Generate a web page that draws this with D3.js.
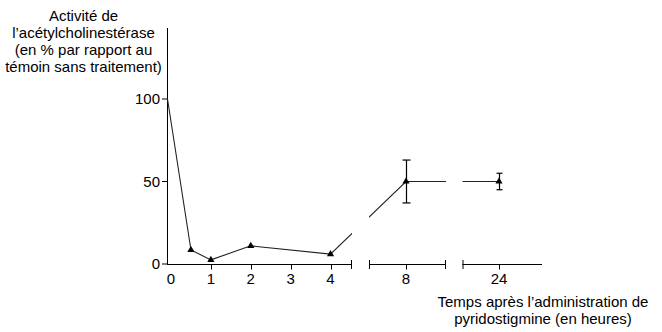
<!DOCTYPE html>
<html>
<head>
<meta charset="utf-8">
<script src="https://cdn.jsdelivr.net/npm/d3@7"></script>
<style>
  html, body { margin: 0; padding: 0; background: #fff; }
  svg { display: block; font-family: "Liberation Sans", Arial, sans-serif; }
  text { fill: #000; font-size: 15px; }
</style>
</head>
<body>
<svg id="chart" width="662" height="332"></svg>
<script>
// ---- data ----
const times = [0, 0.5, 1, 2, 4, 8, 24];
const activity = [100, 8.5, 2.5, 11, 6, 50, 50];
const errors = [0, 0, 0, 0, 0, 13, 5];
const hasMarker = [false, true, true, true, true, true, true];
const yTicks = [0, 50, 100];
const xTicksSeg1 = [0, 1, 2, 3, 4];
const xTicksSeg2 = [8];
const xTicksSeg3 = [24];
const yTitle = ["Activité de", "l\u2019acétylcholinestérase", "(en % par rapport au", "témoin sans traitement)"];
const xTitle = ["Temps après l\u2019administration de", "pyridostigmine (en heures)"];

// ---- layout ----
const svg = d3.select("#chart");
const axisX = 167, axisY = 264.5, axisTop = 28;
const x = d3.scaleLinear().domain([0, 4, 8, 24]).range([171, 330.5, 406, 499]);
const y = d3.scaleLinear().domain([0, 100]).range([264, 99]);

const segs = [
  [axisX, x(4) + 21.5, false, true],
  [x(8) - 37, x(8) + 40, true, true],
  [x(24) - 36.5, x(24) + 43, true, false]
];

// clip for broken line
const defs = svg.append("defs");
const cp = defs.append("clipPath").attr("id", "segclip");
segs.forEach(s => cp.append("rect").attr("x", s[0]).attr("y", 0).attr("width", s[1] - s[0]).attr("height", 332));

// y axis
svg.append("line").attr("x1", axisX + 0.5).attr("x2", axisX + 0.5).attr("y1", axisTop).attr("y2", axisY)
  .attr("stroke", "#000").attr("stroke-width", 1);
const yAx = svg.append("g");
yTicks.forEach(t => {
  yAx.append("line").attr("x1", axisX - 5).attr("x2", axisX + 0.5).attr("y1", y(t)).attr("y2", y(t))
    .attr("stroke", "#000").attr("stroke-width", 1);
  yAx.append("text").attr("x", axisX - 7).attr("y", y(t)).attr("dy", "0.36em")
    .attr("text-anchor", "end").text(t);
});

// x axis segments
segs.forEach(s => {
  svg.append("line").attr("x1", s[0]).attr("x2", s[1]).attr("y1", axisY).attr("y2", axisY)
    .attr("stroke", "#000").attr("stroke-width", 1);
  if (s[2]) svg.append("line").attr("x1", s[0] + 0.5).attr("x2", s[0] + 0.5).attr("y1", axisY - 4.5).attr("y2", axisY + 4.5)
    .attr("stroke", "#000").attr("stroke-width", 1);
  if (s[3]) svg.append("line").attr("x1", s[1] - 0.5).attr("x2", s[1] - 0.5).attr("y1", axisY - 4.5).attr("y2", axisY + 4.5)
    .attr("stroke", "#000").attr("stroke-width", 1);
});
[xTicksSeg1, xTicksSeg2, xTicksSeg3].forEach(arr => {
  arr.forEach(t => {
    if (t !== 0) {
      svg.append("line").attr("x1", Math.round(x(t)) + 0.5).attr("x2", Math.round(x(t)) + 0.5)
        .attr("y1", axisY).attr("y2", axisY + 5).attr("stroke", "#000").attr("stroke-width", 1);
    }
    svg.append("text").attr("x", x(t)).attr("y", 283.5).attr("text-anchor", "middle").text(t);
  });
});

// data (time 0 is drawn from the y axis, as in the reference)
const pts = times.map((t, i) => ({ t, v: activity[i], e: errors[i], m: hasMarker[i] }));
const line = d3.line().x(d => Math.max(axisX + 0.5, x(d.t) - (d.t === 0 ? 3.5 : 0))).y(d => y(d.v));
svg.append("path").datum(pts).attr("d", line).attr("fill", "none")
  .attr("stroke", "#222").attr("stroke-width", 1.1).attr("clip-path", "url(#segclip)");

// error bars
pts.filter(d => d.e > 0).forEach(d => {
  const cx = Math.round(x(d.t)) + 0.5;
  const capW = d.e > 8 ? 4 : 3;
  const g = svg.append("g").attr("stroke", "#000").attr("stroke-width", 1.2);
  g.append("line").attr("x1", cx).attr("x2", cx).attr("y1", y(d.v + d.e)).attr("y2", y(d.v - d.e));
  g.append("line").attr("x1", cx - capW).attr("x2", cx + capW).attr("y1", y(d.v + d.e)).attr("y2", y(d.v + d.e));
  g.append("line").attr("x1", cx - capW).attr("x2", cx + capW).attr("y1", y(d.v - d.e)).attr("y2", y(d.v - d.e));
});

// markers
const tri = d3.symbol().type(d3.symbolTriangle).size(22);
svg.selectAll("path.mk").data(pts.filter(d => d.m)).join("path").attr("class", "mk")
  .attr("d", tri).attr("transform", d => `translate(${x(d.t)},${y(d.v)})`).attr("fill", "#000");

// titles
const yt = svg.append("text").attr("text-anchor", "middle");
yTitle.forEach((s, i) => yt.append("tspan").attr("x", 83.5).attr("y", 20.5 + i * 17.1).text(s));
const xt = svg.append("text").attr("text-anchor", "middle");
xTitle.forEach((s, i) => xt.append("tspan").attr("x", 543).attr("y", 306.5 + i * 17.2).text(s));
</script>
</body>
</html>
